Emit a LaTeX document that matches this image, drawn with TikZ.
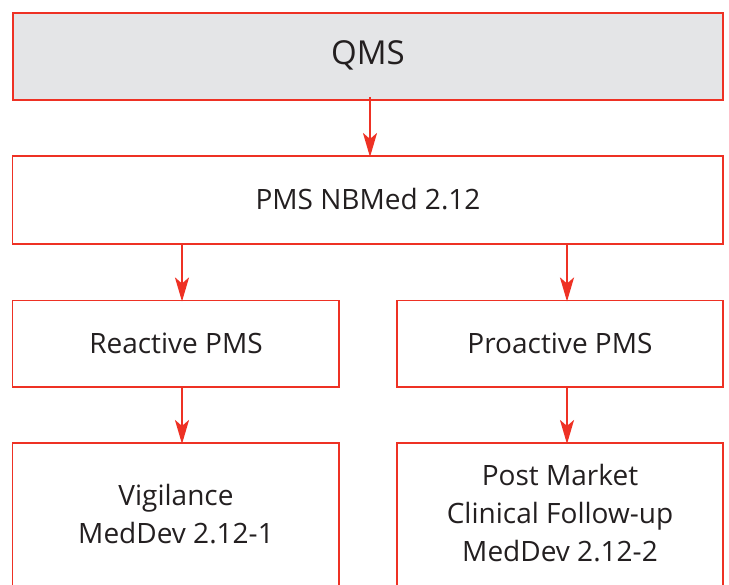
\documentclass[tikz,border=0pt]{standalone}
\usepackage{fontspec}
\setmainfont{Open Sans}
\usetikzlibrary{arrows.meta}
\definecolor{bred}{HTML}{EE3124}
\definecolor{bgray}{HTML}{E4E5E7}
\definecolor{txt}{HTML}{231F20}
\tikzset{
  box/.style={draw=bred, line width=1.6pt, text=txt},
  arr/.style={draw=bred, line width=2.6pt, -{Stealth[length=24pt,width=14pt,inset=6pt]}, shorten >=-1pt},
  lbl/.style={text=txt, font=\fontsize{28}{38}\selectfont, align=center}
}
\begin{document}
\begin{tikzpicture}[x=1pt,y=-1pt]
\useasboundingbox (0,0) rectangle (729,585);
\clip (0,0) rectangle (729,585);
\draw[box, fill=bgray, line width=2pt] (12.5,13) rectangle (723,100);
\node[lbl, font=\fontsize{33}{38}\selectfont] (qms) at (368,55) {QMS};
\draw[box] (12.5,156) rectangle (723,244);
\node[lbl] (pms) at (368,199) {PMS NBMed 2.12};
\draw[box] (12.5,300.5) rectangle (339,387);
\node[lbl] (rea) at (176,343) {Reactive PMS};
\draw[box] (397,300.5) rectangle (723,387);
\node[lbl] (pro) at (560,343) {Proactive PMS};
\draw[box] (12.5,443) rectangle (339,600);
\node[lbl] (vig) at (176,514) {Vigilance\\MedDev 2.12-1};
\draw[box] (397,443) rectangle (723,600);
\node[lbl] (pmcf) at (560,513) {Post Market\\Clinical Follow-up\\MedDev 2.12-2};
\coordinate (a0) at (370,97);
\coordinate (a1) at (370,156);
\coordinate (b0) at (182,245);
\coordinate (b1) at (182,300.5);
\coordinate (c0) at (567,245);
\coordinate (c1) at (567,300.5);
\coordinate (d0) at (182,388);
\coordinate (d1) at (182,443);
\coordinate (e0) at (567,388);
\coordinate (e1) at (567,443);
\draw[arr] (a0) -- (a1);
\draw[arr] (b0) -- (b1);
\draw[arr] (c0) -- (c1);
\draw[arr] (d0) -- (d1);
\draw[arr] (e0) -- (e1);
\end{tikzpicture}
\end{document}
